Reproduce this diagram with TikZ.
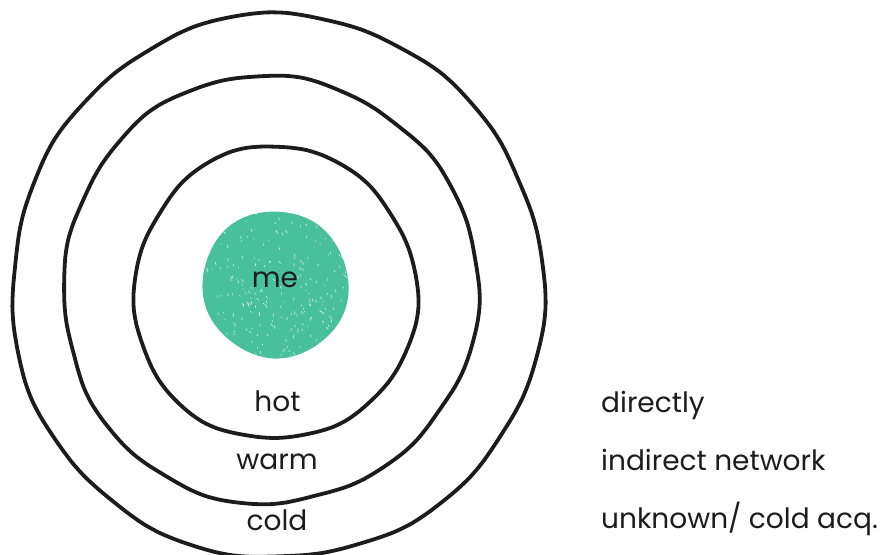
\documentclass[tikz,border=0pt]{standalone}
\usepackage{fontspec}
\setmainfont{Poppins}
\definecolor{ink}{RGB}{28,28,28}
\definecolor{mint}{RGB}{73,192,156}
\begin{document}
\begin{tikzpicture}[x=1pt,y=-1pt,
  ring/.style={draw=ink,line width=3.8pt,line join=round},
  lbl/.style={font=\fontsize{28}{32}\selectfont,text=ink,inner sep=0pt},
  rlbl/.style={lbl,anchor=base west}]
\useasboundingbox (0,0) rectangle (885,554);
% outer ring
\draw[ring] plot[smooth cycle,samples=90,domain=0:356,variable=\t]
 ({277.5+(266+2.0*sin(3*\t+20)+1.2*sin(7*\t+50)+0.5*sin(19*\t))*cos(\t)},
  {287.5+(272+2.0*sin(3*\t+20)+1.2*sin(7*\t+50)+0.5*sin(19*\t))*sin(\t)});
% middle ring
\draw[ring] plot[smooth cycle,samples=80,domain=0:355.5,variable=\t]
 ({269.5+(207.5+2.0*sin(3*\t+80)+1.0*sin(8*\t+10)+0.5*sin(17*\t+40))*cos(\t)},
  {290+(214+2.0*sin(3*\t+80)+1.0*sin(8*\t+10)+0.5*sin(17*\t+40))*sin(\t)});
% inner ring
\draw[ring] plot[smooth cycle,samples=60,domain=0:354,variable=\t]
 ({275+(141.5+1.8*sin(3*\t+30)+0.9*sin(6*\t+70)+0.4*sin(13*\t))*cos(\t)},
  {293.5+(146.5+1.8*sin(3*\t+30)+0.9*sin(6*\t+70)+0.4*sin(13*\t))*sin(\t)});
% green blob
\path[fill=mint] plot[smooth cycle,samples=40,domain=0:351,variable=\t]
 ({275.5+(72+1.2*sin(2*\t+60)+0.6*sin(5*\t))*cos(\t)},
  {284.5+(74.5+1.2*sin(2*\t+60)+0.6*sin(5*\t))*sin(\t)});
\begin{scope}
\clip plot[smooth cycle,samples=40,domain=0:351,variable=\t]
 ({275.5+(72+1.2*sin(2*\t+60)+0.6*sin(5*\t))*cos(\t)},
  {284.5+(74.5+1.2*sin(2*\t+60)+0.6*sin(5*\t))*sin(\t)});
\pgfmathsetseed{7}
\foreach \i in {1,...,260}{
  \pgfmathsetmacro{\px}{275.5+72*rand}
  \pgfmathsetmacro{\py}{284.5+75*rand}
  \pgfmathsetmacro{\pa}{75+25*rand}
  \pgfmathsetmacro{\pl}{1+2.5*rnd}
  \draw[white,opacity=0.75,line width=0.6pt] (\px,\py) -- ++(\pa:\pl);
}
\end{scope}
\node[lbl] (me) at (275,280) {me};
\node[lbl,anchor=base] (hot) at (277.5,411.5) {hot};
\node[lbl,anchor=base] (warm) at (277,469) {warm};
\node[lbl,anchor=base] (cold) at (277,530) {cold};
\node[rlbl] (d1) at (601,412) {directly};
\node[rlbl] (d2) at (601,470) {indirect network};
\node[rlbl] (d3) at (601,528) {unknown/ cold acq.};
\end{tikzpicture}
\end{document}
